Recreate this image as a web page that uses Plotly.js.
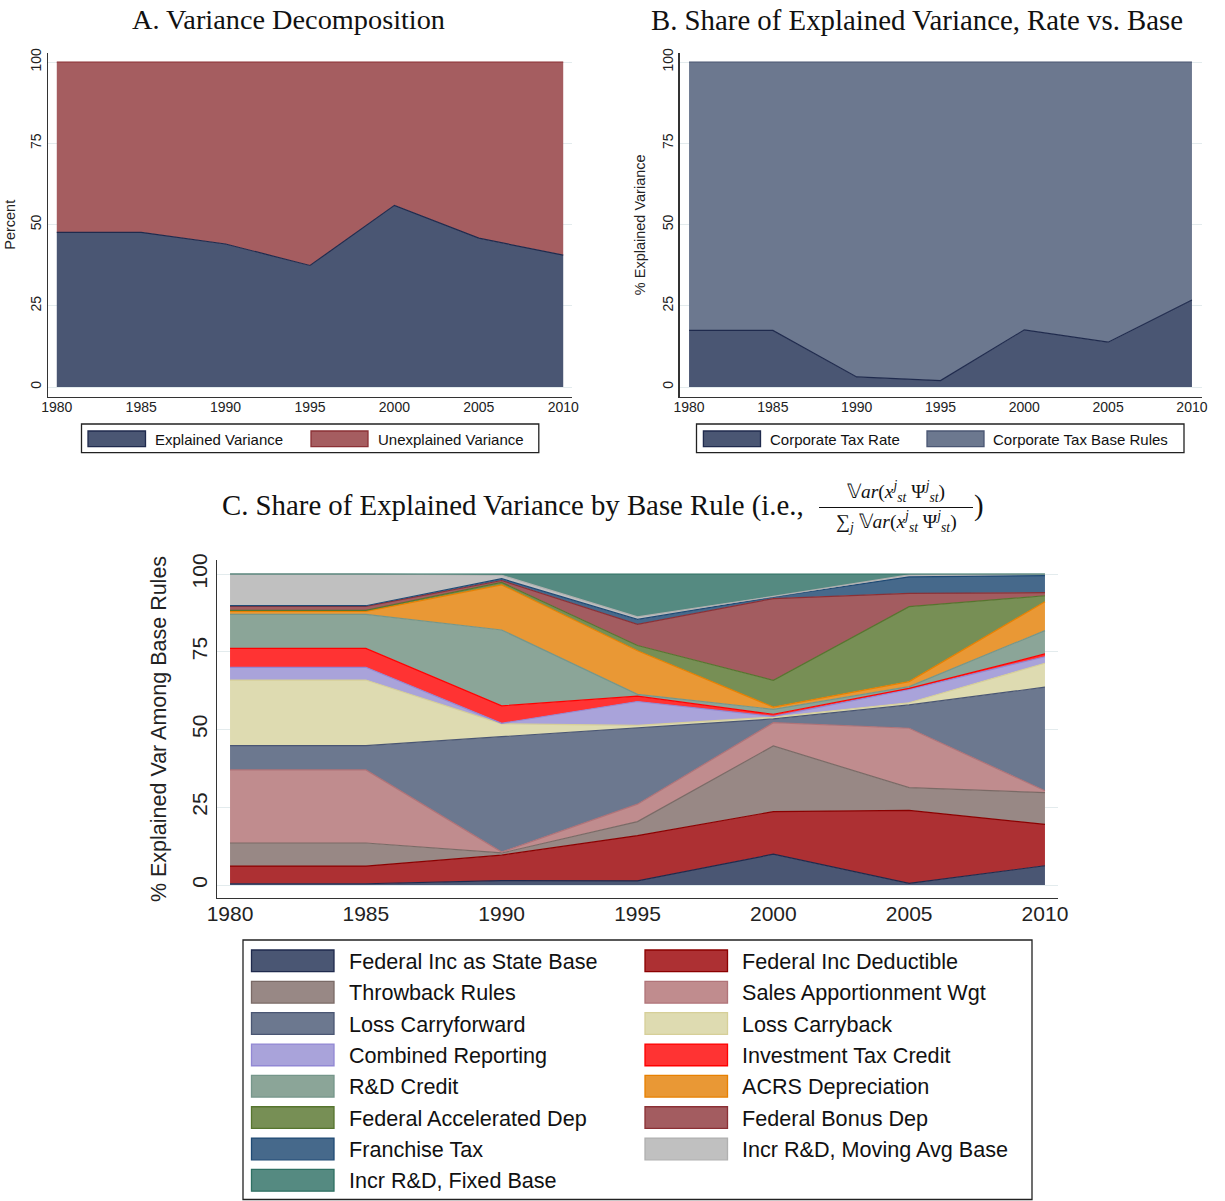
<!DOCTYPE html>
<html><head><meta charset="utf-8">
<script src="https://cdn.plot.ly/plotly-3.0.1.min.js"></script>
<style>html,body{margin:0;padding:0;background:#fff;}#chart{width:1225px;height:1201px;}</style>
</head><body><div id="chart"></div>
<script>
// ---------- DATA ----------
const years = [1980, 1985, 1990, 1995, 2000, 2005, 2010];
const yTicks = [0, 25, 50, 75, 100];

// Panel A: variance decomposition (percent)
const explainedVariance   = [47.6, 47.6, 44.0, 37.4, 55.9, 45.8, 40.6];
const unexplainedVariance = [52.4, 52.4, 56.0, 62.6, 44.1, 54.2, 59.4];

// Panel B: share of explained variance (percent)
const corpTaxRate      = [17.4, 17.4, 3.1, 2.0, 17.6, 13.8, 26.8];
const corpTaxBaseRules = [82.6, 82.6, 96.9, 98.0, 82.4, 86.2, 73.2];

// Panel C: share of explained variance among base rules (percent, each rule)
const fedIncStateBase   = [0.4, 0.4, 1.4, 1.3, 9.9, 0.5, 6.2];
const fedIncDeductible  = [5.7, 5.7, 8.2, 14.6, 13.7, 23.5, 13.3];
const throwbackRules    = [7.4, 7.4, 0.7, 4.5, 21.1, 7.3, 10.2];
const salesApportionWgt = [23.5, 23.5, 0.3, 5.6, 7.5, 19.1, 0.6];
const lossCarryforward  = [7.8, 7.8, 37.1, 24.6, 1.2, 7.5, 33.3];
const lossCarryback     = [21.1, 21.1, 4.1, 0.7, 0.6, 0.7, 7.7];
const combinedReporting = [4.1, 4.1, 0.2, 7.7, 0.2, 4.3, 2.1];
const investTaxCredit   = [6.1, 6.1, 5.6, 1.7, 0.7, 0.3, 0.9];
const rdCredit          = [10.9, 10.9, 24.4, 0.6, 1.6, 0.6, 7.5];
const acrsDepreciation  = [1.0, 1.0, 14.5, 14.0, 0.7, 1.6, 9.3];
const fedAccelDep       = [0.3, 0.3, 0.8, 1.7, 8.6, 24.1, 1.9];
const fedBonusDep       = [1.3, 1.3, 0.6, 6.8, 26.3, 4.3, 1.0];
const franchiseTax      = [0.2, 0.2, 0.6, 1.6, 0.5, 5.3, 5.5];
const incrRDMovingAvg   = [10.2, 10.2, 1.1, 0.8, 0.2, 0.6, 0.4];
const incrRDFixedBase   = [0.0, 0.0, 0.4, 13.8, 7.2, 0.3, 0.1];

const baseRuleNames = [
  'Federal Inc as State Base', 'Federal Inc Deductible',
  'Throwback Rules', 'Sales Apportionment Wgt',
  'Loss Carryforward', 'Loss Carryback',
  'Combined Reporting', 'Investment Tax Credit',
  'R&D Credit', 'ACRS Depreciation',
  'Federal Accelerated Dep', 'Federal Bonus Dep',
  'Franchise Tax', 'Incr R&D, Moving Avg Base',
  'Incr R&D, Fixed Base'
];
const baseRuleSeries = [
  fedIncStateBase, fedIncDeductible, throwbackRules, salesApportionWgt,
  lossCarryforward, lossCarryback, combinedReporting, investTaxCredit,
  rdCredit, acrsDepreciation, fedAccelDep, fedBonusDep,
  franchiseTax, incrRDMovingAvg, incrRDFixedBase
];

// ---------- STYLE ----------
const fillC = ['#4a5673','#ad3033','#988885','#c08c8e','#6c788f','#dedbb1','#a9a3da','#ff3333',
               '#8ba598','#e99835','#778f55','#a35c60','#46698b','#c0c0c0','#558a81'];
const lineC = ['#1f2a4d','#8b0000','#7a6a66','#b07378','#4a5673','#d6cf98','#9288d4','#ff0000',
               '#75968a','#e88000','#56752e','#8b3035','#1f4a74','#b0b0b0','#2f7063'];

const W = 1225, H = 1201;
const px = x => x / W;
const py = y => 1 - y / H;
const SANS = 'Liberation Sans, Arial, sans-serif';
const SERIF = 'Liberation Serif, Times New Roman, serif';
const GRID = '#e3ebed';
const AXL = '#333333';

const traces = [];
function area(x, y, name, stack, xa, ya, fill, line) {
  traces.push({type:'scatter', mode:'lines', x:x, y:y, name:name, stackgroup:stack,
    xaxis:xa, yaxis:ya, fillcolor:fill, line:{color:line, width:1.2}, showlegend:false});
}
area(years, explainedVariance, 'Explained Variance', 'a', 'x', 'y', '#4a5673', '#1f2a4d');
area(years, unexplainedVariance, 'Unexplained Variance', 'a', 'x', 'y', '#a55d60', '#8b3035');
area(years, corpTaxRate, 'Corporate Tax Rate', 'b', 'x2', 'y2', '#4a5673', '#1f2a4d');
area(years, corpTaxBaseRules, 'Corporate Tax Base Rules', 'b', 'x2', 'y2', '#6c788f', '#4a5673');
baseRuleSeries.forEach((s, i) => area(years, s, baseRuleNames[i], 'c', 'x3', 'y3', fillC[i], lineC[i]));

function xax(domain, range, fs, st) {
  return {domain:domain, range:range, tickvals:years, tickformat:'d', showgrid:false, zeroline:false,
    showline:true, linecolor:AXL, linewidth:1.3, ticks:'', ticklabelstandoff:st,
    tickfont:{family:SANS, size:fs, color:'#222'}, fixedrange:true};
}
function yax(domain, range, fs, title, tfs, standoff) {
  return {domain:domain, range:range, tickvals:yTicks, tickangle:-90, showgrid:true, gridcolor:GRID,
    gridwidth:1, zeroline:false, showline:true, linecolor:AXL, linewidth:1.3, ticks:'',
    tickfont:{family:SANS, size:fs, color:'#222'}, fixedrange:true,
    title:{text:title, font:{family:SANS, size:tfs, color:'#222'}, standoff:standoff}};
}

const layout = {
  width: W, height: H, margin:{l:0, r:0, t:0, b:0}, paper_bgcolor:'#fff', plot_bgcolor:'#fff',
  showlegend:false,
  xaxis: Object.assign(xax([px(48), px(572)], [1979.48, 2010.52], 14, -3), {anchor:'y'}),
  yaxis: Object.assign(yax([py(397), py(52.6)], [-3.07, 102.9], 14, 'Percent', 14.5, 9), {anchor:'x'}),
  xaxis2: Object.assign(xax([px(679.5), px(1201.5)], [1979.43, 2010.57], 14, -3), {anchor:'y2'}),
  yaxis2: Object.assign(yax([py(397), py(52.6)], [-3.07, 102.9], 14, '% Explained Variance', 14.5, 10), {anchor:'x2'}),
  xaxis3: Object.assign(xax([px(217), px(1058)], [1979.52, 2010.48], 21, -4), {anchor:'y3'}),
  yaxis3: Object.assign(yax([py(898), py(560)], [-4.18, 104.5], 21, '% Explained Var Among Base Rules', 21.5, 15), {anchor:'x3'}),
  shapes: [], annotations: []
};

function ann(text, x, y, size, family, xanchor, extra) {
  layout.annotations.push(Object.assign({text:text, x:px(x), y:py(y), xref:'paper', yref:'paper',
    showarrow:false, xanchor:xanchor || 'center', yanchor:'middle', borderpad:0,
    font:{family:family, size:size, color:'#111'}}, extra || {}));
}
function rect(x0, y0, x1, y1, fill, line, lw) {
  layout.shapes.push({type:'rect', xref:'paper', yref:'paper', x0:px(x0), x1:px(x1), y0:py(y1), y1:py(y0),
    fillcolor:fill, line:{color:line, width:lw}});
}

// Titles
ann('A. Variance Decomposition', 288, 20, 28.3, SERIF);
ann('B. Share of Explained Variance, Rate vs. Base', 917, 20, 28.8, SERIF);
ann('C. Share of Explained Variance by Base Rule (i.e., ', 221, 506, 28.8, SERIF, 'left');
ann('𝕍<i>ar</i>(<i>x</i><sup><i>j</i></sup><sub><i>st</i></sub> Ψ<sup><i>j</i></sup><sub><i>st</i></sub>)', 896, 491, 19.5, SERIF);
ann('∑<sub><i>j</i></sub> 𝕍<i>ar</i>(<i>x</i><sup><i>j</i></sup><sub><i>st</i></sub> Ψ<sup><i>j</i></sup><sub><i>st</i></sub>)', 896, 521, 19.5, SERIF);
ann(')', 979, 506, 28.8, SERIF);
layout.shapes.push({type:'line', xref:'paper', yref:'paper', x0:px(819), x1:px(973), y0:py(507.5), y1:py(507.5),
  line:{color:'#111', width:1}});

// Legend A
rect(81.5, 424, 538.8, 452.7, 'rgba(0,0,0,0)', '#222', 1.3);
rect(88, 431, 145.5, 446.7, '#4a5673', '#1f2a4d', 1.3);
ann('Explained Variance', 154, 439, 15, SANS, 'left');
rect(311, 431, 368, 446.7, '#a55d60', '#8b3035', 1.3);
ann('Unexplained Variance', 377, 439, 15, SANS, 'left');

// Legend B
rect(696.5, 424, 1184, 452.7, 'rgba(0,0,0,0)', '#222', 1.3);
rect(703.4, 431, 760.5, 446.7, '#4a5673', '#1f2a4d', 1.3);
ann('Corporate Tax Rate', 768.5, 439, 15, SANS, 'left');
rect(927, 431, 984, 446.7, '#6c788f', '#4a5673', 1.3);
ann('Corporate Tax Base Rules', 992, 439, 15, SANS, 'left');

// Legend C
rect(243, 940, 1032, 1199.5, 'rgba(0,0,0,0)', '#222', 1.3);
baseRuleNames.forEach((nm, i) => {
  const col = i % 2, row = Math.floor(i / 2);
  const sx = col ? 645 : 251.5, lx = col ? 740.5 : 347.5;
  const yt = 950 + row * 31.35;
  rect(sx, yt, sx + 82.5, yt + 21.7, fillC[i], lineC[i], 1.3);
  ann(nm, lx, yt + 11.5, 21.6, SANS, 'left');
});

Plotly.newPlot('chart', traces, layout, {staticPlot:true, displayModeBar:false});
</script></body></html>
